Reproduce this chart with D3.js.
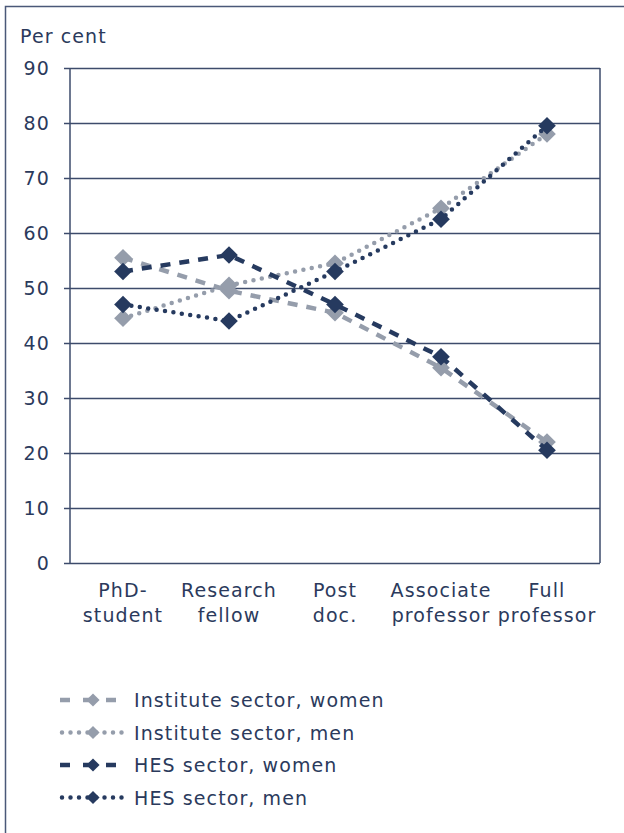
<!DOCTYPE html>
<html>
<head>
<meta charset="utf-8">
<script src="https://cdn.jsdelivr.net/npm/d3@7"></script>
<style>
  body { margin: 0; background: #fff; }
  text { font-family: "DejaVu Sans", Verdana, sans-serif; fill: #2b3a5c; letter-spacing: 1.1px; }
</style>
</head>
<body>
<div id="chart"></div>
<script>
var categories = [["PhD-", "student"], ["Research", "fellow"], ["Post", "doc."], ["Associate", "professor"], ["Full", "professor"]];
var instWomen = [55.5, 49.5, 45.5, 35.5, 22];
var instMen = [44.5, 50.5, 54.5, 64.5, 78];
var hesWomen = [53, 56, 47, 37.5, 20.5];
var hesMen = [47, 44, 53, 62.5, 79.5];
var yTicks = [0, 10, 20, 30, 40, 50, 60, 70, 80, 90];

var navy = "#263a5f", grey = "#959dab";

var series = [
  {name: "Institute sector, women", values: instWomen, color: grey, dash: "10,9", cap: "butt"},
  {name: "Institute sector, men", values: instMen, color: grey, dash: "0,8.5", cap: "round"},
  {name: "HES sector, women", values: hesWomen, color: navy, dash: "10,9", cap: "butt"},
  {name: "HES sector, men", values: hesMen, color: navy, dash: "0,8.5", cap: "round"}
];

var width = 624, height = 833;
var margin = {top: 68, right: 24, bottom: 270, left: 70};
var w = width - margin.left - margin.right, h = height - margin.top - margin.bottom;

var svg = d3.select("#chart").append("svg")
    .attr("width", width)
    .attr("height", height);

// outer frame
svg.append("rect")
    .attr("x", 5.5).attr("y", 6.5)
    .attr("width", 640).attr("height", 840)
    .attr("fill", "none").attr("stroke", "#4a5878").attr("stroke-width", 1.5);

var x = d3.scaleBand().domain(d3.range(categories.length)).range([0, w]),
    y = d3.scaleLinear().domain([0, 90]).range([h, 0]);

var g = svg.append("g")
    .attr("transform", "translate(" + margin.left + "," + margin.top + ")");

// grid + y axis
var yAxis = d3.axisLeft(y).tickValues(yTicks).tickSize(-w).tickPadding(20);
g.append("g")
    .attr("class", "axis axis--y")
    .call(yAxis)
    .call(function(s) {
        s.select(".domain").remove();
        s.selectAll(".tick line").attr("stroke", "#3d4b6b").attr("stroke-width", 1.5).attr("x1", -6);
        s.selectAll(".tick text").attr("font-size", 19).attr("font-family", "DejaVu Sans").attr("fill", "#2b3a5c");
    });

g.append("line").attr("x1", 0).attr("x2", 0).attr("y1", 0).attr("y2", h)
    .attr("stroke", "#3d4b6b").attr("stroke-width", 1.5);
g.append("line").attr("x1", w).attr("x2", w).attr("y1", 0).attr("y2", h)
    .attr("stroke", "#3d4b6b").attr("stroke-width", 1.5);

svg.append("text").attr("x", 20).attr("y", 43).attr("font-size", 19).text("Per cent");

// x labels
var xl = g.append("g").selectAll("text")
    .data(categories)
    .enter().append("text")
    .attr("text-anchor", "middle")
    .attr("font-size", 19)
    .attr("transform", function(d, i) { return "translate(" + (x(i) + x.bandwidth() / 2) + "," + (h + 34) + ")"; });
xl.append("tspan").attr("x", 0).attr("y", 0).text(function(d) { return d[0]; });
xl.append("tspan").attr("x", 0).attr("y", 25).text(function(d) { return d[1]; });

var line = d3.line()
    .x(function(d, i) { return x(i) + x.bandwidth() / 2; })
    .y(function(d) { return y(d); });

var diamond = d3.symbol().type(d3.symbolDiamond2).size(200);

series.forEach(function(s) {
    g.append("path")
        .datum(s.values)
        .attr("d", line)
        .attr("fill", "none")
        .attr("stroke", s.color)
        .attr("stroke-width", 4.5)
        .attr("stroke-linecap", s.cap)
        .attr("stroke-dasharray", s.dash);
    g.append("g").selectAll("path")
        .data(s.values)
        .enter().append("path")
        .attr("d", diamond)
        .attr("fill", s.color)
        .attr("transform", function(d, i) { return "translate(" + (x(i) + x.bandwidth() / 2) + "," + y(d) + ")"; });
});

// legend
var leg = svg.append("g").attr("transform", "translate(60,700)");
var rows = leg.selectAll("g").data(series).enter().append("g")
    .attr("transform", function(d, i) { return "translate(0," + (i * 32.5) + ")"; });
rows.append("line")
    .attr("x1", function(d) { return d.cap === "round" ? 2 : 0; })
    .attr("x2", 66).attr("y1", 0).attr("y2", 0)
    .attr("stroke", function(d) { return d.color; })
    .attr("stroke-width", 4.5)
    .attr("stroke-linecap", function(d) { return d.cap; })
    .attr("stroke-dasharray", function(d) { return d.cap === "round" ? "0,8.5" : "10,13"; });
rows.append("path")
    .attr("d", d3.symbol().type(d3.symbolDiamond2).size(110))
    .attr("fill", function(d) { return d.color; })
    .attr("transform", "translate(33,0)");
rows.append("text")
    .attr("x", 74).attr("y", 7)
    .attr("font-size", 19)
    .text(function(d) { return d.name; });
</script>
</body>
</html>
